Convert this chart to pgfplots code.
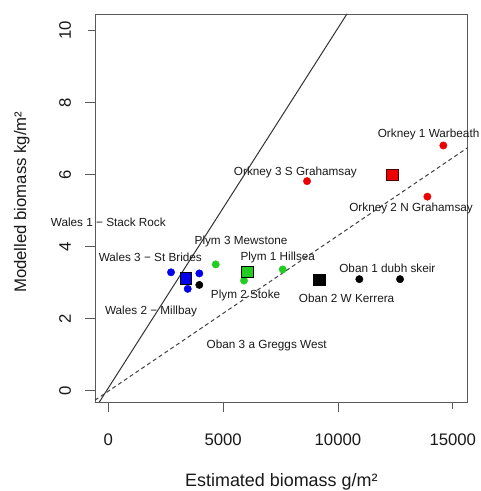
\documentclass[border=0pt]{standalone}
\usepackage{fontspec}
\setmainfont{Liberation Sans}
\usepackage{pgfplots}
\pgfplotsset{compat=1.18}
\definecolor{rred}{HTML}{EE0000}
\definecolor{rgreen}{HTML}{22CC22}
\definecolor{rblue}{HTML}{0000EE}
\definecolor{boxgray}{HTML}{5A5A5A}
\begin{document}
\begin{tikzpicture}
\begin{axis}[
  scale only axis, width=372.7bp, height=388bp,
  xmin=-580, xmax=15650, ymin=-0.31, ymax=10.46,
  axis line style={boxgray, line width=0.9bp},
  tick pos=left, tick align=outside,
  major tick length=10bp,
  every tick/.style={boxgray, line width=0.9bp, shorten <=3bp},
  xtick={0,5000,10000,15000}, ytick={0,2,4,6,8,10},
  scaled x ticks=false,
  /pgf/number format/assume math mode=true,
  /pgf/number format/1000 sep={},
  xticklabel style={font=\fontsize{16.8}{18}\selectfont, text=black!90, anchor=center, yshift=-27.3bp},
  yticklabel style={font=\fontsize{16.8}{18}\selectfont, text=black!90, anchor=center, xshift=-20bp, rotate=90},
  xlabel={Estimated biomass g/m²},
  ylabel={Modelled biomass kg/m²},
  xlabel style={font=\fontsize{18}{20}\selectfont, text=black!90, at={(axis description cs:0.5,-0.2054)}, anchor=center},
  ylabel style={font=\fontsize{16.8}{19}\selectfont, text=black!90, at={(axis description cs:-0.1967,0.515)}, anchor=center},
  clip=false,
]
% reference lines
\addplot[black!80, line width=1bp] coordinates {(-390,-0.31) (10390,10.46)};
\addplot[black!75, line width=1bp, dash pattern=on 4bp off 3bp] coordinates {(-580,-0.26) (15650,6.75)};
% labels
\addplot[only marks, mark=none, nodes near coords, point meta=explicit symbolic,
  nodes near coords style={anchor=center, font=\fontsize{11.8}{13}\selectfont, text=black!90, inner sep=0pt}]
  table[col sep=comma, x=x, y=y, meta=label] {
x,y,label
13946,7.12,Orkney 1 Warbeath
8145,6.07,Orkney 3 S Grahamsay
13184,5.07,Orkney 2 N Grahamsay
12152,3.40,Oban 1 dubh skeir
10375,2.57,Oban 2 W Kerrera
5780,4.14,Plym 3 Mewstone
7378,3.71,Plym 1 Hillsea
5976,2.66,Plym 2 Stoke
1829,3.72,Wales 3 − St Brides
0,4.68,Wales 1 − Stack Rock
1860,2.19,Wales 2 − Millbay
6899,1.25,Oban 3 a Greggs West
};
% points
\addplot[only marks, mark=*, mark size=3.7bp, mark options={draw=rred, fill=rred}] coordinates {(14590,6.81) (8654,5.82) (13894,5.39)};
\addplot[only marks, mark=square*, mark size=5.6bp, mark options={draw=black!70!rred, fill=rred, line width=0.7bp}] coordinates {(12369,5.99)};
\addplot[only marks, mark=*, mark size=3.7bp, mark options={draw=rgreen, fill=rgreen}] coordinates {(7596,3.37) (4678,3.51) (5910,3.06)};
\addplot[only marks, mark=square*, mark size=5.6bp, mark options={draw=black, fill=rgreen, line width=0.7bp}] coordinates {(6054,3.31)};
\addplot[only marks, mark=*, mark size=3.7bp, mark options={draw=rblue, fill=rblue}] coordinates {(2731,3.29) (3963,3.26) (3458,2.83)};
\addplot[only marks, mark=square*, mark size=5.6bp, mark options={draw=black, fill=rblue, line width=0.7bp}] coordinates {(3371,3.12)};
\addplot[only marks, mark=*, mark size=3.7bp, mark options={draw=black, fill=black}] coordinates {(3963,2.94) (10932,3.10) (12704,3.10)};
\addplot[only marks, mark=square*, mark size=5.6bp, mark options={draw=black, fill=black, line width=0.7bp}] coordinates {(9190,3.07)};
\end{axis}
\pgfresetboundingbox
\path (current axis.south west) ++(-95bp,-89bp) rectangle ++(481bp,491bp);
\end{tikzpicture}
\end{document}
